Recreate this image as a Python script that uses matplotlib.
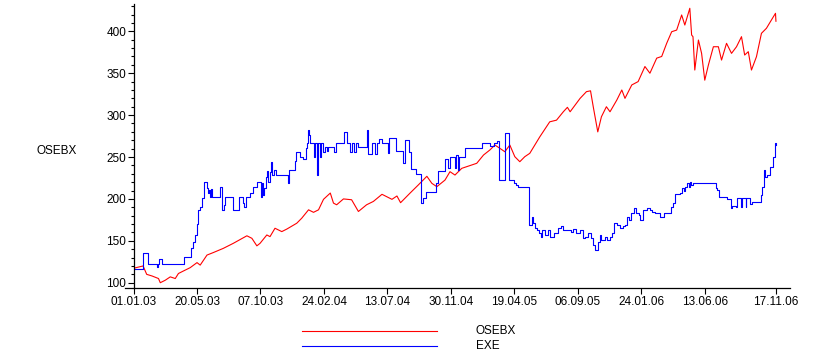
import numpy as np
import pandas as pd
import matplotlib
matplotlib.use("Agg")
import matplotlib.pyplot as plt
import matplotlib.dates as mdates
from matplotlib.ticker import MultipleLocator

plt.rcParams['font.family'] = ['Liberation Sans', 'DejaVu Sans']

start = pd.Timestamp('2003-01-01')

# OSEBX index (days after 01.01.03, value)
osebx_days = [1, 20, 28, 40, 54, 58, 69, 80, 91, 98, 109, 124, 139, 146, 161, 175, 197, 219,
              249, 260, 271, 278, 293, 300, 311, 326, 337, 359, 370, 385, 396, 407, 418, 433,
              440, 447, 462, 480, 495, 513, 528, 547, 569, 580, 588, 609, 627, 646, 657, 668,
              686, 697, 708, 723, 745, 756, 771, 785, 796, 807, 818, 829, 840, 851, 862, 873,
              895, 917, 932, 947, 956, 962, 984, 998, 1007, 1013, 1023, 1031, 1042, 1050,
              1065, 1076, 1083, 1098, 1112, 1127, 1138, 1153, 1164, 1175, 1186, 1197, 1208,
              1215, 1226, 1230, 1233, 1237, 1245, 1252, 1259, 1267, 1278, 1289, 1296, 1307,
              1318, 1329, 1340, 1347, 1355, 1362, 1373, 1384, 1395, 1406, 1415, 1416]
osebx_vals = [117.5, 120, 110, 108, 105, 100, 103, 107, 105, 111, 114, 118, 124, 121, 133, 136,
              141, 147, 156, 153, 144, 147, 157, 155, 165, 161, 164, 171, 177, 187, 184, 187,
              199.5, 207, 195, 193, 200, 199, 185, 193, 197, 205.5, 199.5, 203.5, 195.5, 207,
              216.6, 227, 218.6, 214.6, 222.5, 232.5, 228.5, 236.5, 240.5, 242.5, 252.4, 258.4,
              264.3, 260.4, 256.3, 264.3, 250.4, 244.4, 250.4, 254.4, 274, 292, 294, 304, 309.3,
              304, 320, 328, 329, 310, 280, 298, 310, 304, 318, 330, 320, 336, 340, 358, 350,
              368, 370, 385.7, 399.5, 401.5, 419.5, 407.5, 427.5, 395.6, 393.6, 353.8, 389.6,
              373.7, 341.7, 359.8, 381.6, 381.6, 365.7, 385.7, 373.7, 381.6, 393.6, 371.7,
              375.7, 353.8, 369.7, 397.6, 403.6, 413.5, 421.5, 412]

# EXE share price, step changes (days after 01.01.03, value from that day)
exe_days = [0, 20, 30, 50, 53, 56, 62, 111, 125, 131, 135, 139, 141, 146, 150, 155, 161, 164,
            166, 168, 170, 172, 190, 194, 199, 201, 219, 232, 241, 243, 247, 256, 263, 271,
            280, 283, 285, 287, 291, 294, 296, 300, 302, 305, 309, 313, 340, 342, 355, 358,
            366, 373, 380, 382, 384, 386, 388, 397, 399, 403, 406, 410, 412, 417, 422, 426,
            428, 441, 446, 463, 470, 477, 481, 486, 490, 494, 513, 516, 525, 532, 536, 541,
            547, 560, 563, 579, 593, 598, 607, 611, 622, 633, 637, 644, 666, 670, 685, 693,
            697, 708, 710, 715, 717, 731, 768, 785, 793, 801, 805, 819, 827, 838, 842, 847,
            872, 878, 880, 885, 889, 893, 898, 900, 906, 913, 917, 926, 935, 941, 947, 965,
            969, 976, 984, 990, 995, 1002, 1009, 1013, 1017, 1024, 1028, 1031, 1039, 1043,
            1050, 1054, 1059, 1065, 1072, 1079, 1083, 1087, 1091, 1097, 1102, 1107, 1113,
            1116, 1122, 1131, 1139, 1142, 1150, 1160, 1170, 1185, 1189, 1194, 1204, 1209,
            1213, 1216, 1220, 1224, 1227, 1229, 1234, 1239, 1284, 1286, 1291, 1307, 1316,
            1319, 1327, 1330, 1338, 1341, 1349, 1351, 1358, 1363, 1382, 1385, 1389, 1391,
            1396, 1403, 1409, 1413, 1415, 1417]
exe_vals = [116, 135, 122, 119, 122, 128, 122, 131, 141, 149, 157, 170, 186.8, 190.7, 200.7,
            220.5, 213, 206.7, 210.6, 202.6, 211.4, 202.6, 214.6, 186.8, 192.7, 202.6, 186.8,
            201.9, 194.7, 190.7, 202.6, 206.7, 214.6, 220.5, 202.6, 218.6, 204.7, 212.6, 226.5,
            233.6, 220.5, 232.5, 243.6, 228.5, 234.5, 228.5, 219.3, 234.5, 245.6, 256.3, 250.4,
            247.3, 260.4, 266.3, 282.2, 276.2, 266.3, 250.4, 266.3, 228.5, 266.3, 250.4, 266.3,
            256.3, 262.3, 257.5, 262.3, 256.3, 266.3, 279.4, 266.3, 256.3, 266.3, 256.3, 266.3,
            262.3, 282.2, 253.6, 266.3, 253.6, 266.3, 271.1, 267.1, 254.4, 272.3, 257.5, 242.5,
            270.2, 256.3, 235.3, 229.7, 194.7, 200.7, 208.6, 219.3, 233.6, 247.6, 236.5, 250.4,
            236.5, 252.4, 234.5, 250.4, 260.4, 266.3, 263.5, 266.3, 269.3, 222.5, 278.2, 222.5,
            218.6, 216.6, 213.8, 168.9, 178.8, 171.6, 164.9, 162.9, 158.9, 154.2, 162.9, 156.9,
            162.9, 154.9, 158.9, 164.9, 167.7, 162.9, 160.9, 163.7, 158.9, 162.9, 153, 155,
            158.9, 153, 145, 139, 148.9, 156.9, 151, 154.2, 151, 154.2, 158.9, 170.9, 168.9,
            164.9, 167.7, 169, 178.8, 174.8, 182.8, 188.8, 182.8, 180.8, 174.8, 186.8, 188.8,
            186.8, 184.7, 182.8, 178.8, 182.8, 190.7, 195.4, 205.9, 207.4, 212.6, 209.8, 214.5,
            219.3, 214.5, 220.5, 216.6, 219.3, 218.6, 212.6, 211, 202.6, 199.5, 188.8, 191.5,
            190.7, 200.7, 190.7, 200.7, 190.7, 200.7, 194, 196.7, 204.7, 214.5, 234.5, 226.5,
            228.5, 238.4, 250.4, 262.3, 267.1, 264.3]

tick_dates = ['2003-01-01', '2003-05-20', '2003-10-07', '2004-02-24', '2004-07-13', '2004-11-30',
              '2005-04-19', '2005-09-06', '2006-01-24', '2006-06-13', '2006-11-17']

osebx_x = start + pd.to_timedelta(osebx_days, unit='D')
exe_x = start + pd.to_timedelta(exe_days, unit='D')

fig = plt.figure(figsize=(8.36, 3.58), dpi=100)
ax = fig.add_axes([134 / 836, 70 / 358, 656 / 836, 284 / 358])

ax.plot(osebx_x, osebx_vals, color='#ff0000', lw=0.8)
ax.plot(exe_x, exe_vals, color='#0000ff', lw=0.8, drawstyle='steps-post')

ax.set_xlim(start, pd.Timestamp('2006-12-18'))
ax.set_ylim(93.7, 432.6)

ax.spines['top'].set_visible(False)
ax.spines['right'].set_visible(False)
for s in ['left', 'bottom']:
    ax.spines[s].set_linewidth(0.9)
    ax.spines[s].set_color('black')
# bottom axis line sticks out a little to the left
ax.plot([-0.014, 0], [0, 0], transform=ax.transAxes, color='black', lw=0.9, clip_on=False)

ax.set_xticks([pd.Timestamp(d) for d in tick_dates])
ax.xaxis.set_major_formatter(mdates.DateFormatter('%d.%m.%y'))
ax.yaxis.set_major_locator(MultipleLocator(50))
ax.yaxis.set_minor_locator(MultipleLocator(10))
ax.tick_params(axis='both', which='major', length=4, width=0.8, labelsize=8.5, pad=1.5)
ax.tick_params(axis='y', which='minor', length=2.5, width=0.8)

fig.text(57 / 836, 1 - 151 / 358, 'OSEBX', fontsize=8.5, ha='center', va='center')

# legend below the plot
lax = fig.add_axes([0, 0, 1, 1], facecolor='none')
lax.set_xlim(0, 836)
lax.set_ylim(358, 0)
lax.axis('off')
lax.plot([302, 437], [331, 331], color='#ff0000', lw=0.8)
lax.plot([302, 437], [346, 346], color='#0000ff', lw=0.8)
lax.text(476, 331, 'OSEBX', fontsize=8.5, va='center', ha='left')
lax.text(476, 346, 'EXE', fontsize=8.5, va='center', ha='left')

fig.savefig('out.png', dpi=100)
